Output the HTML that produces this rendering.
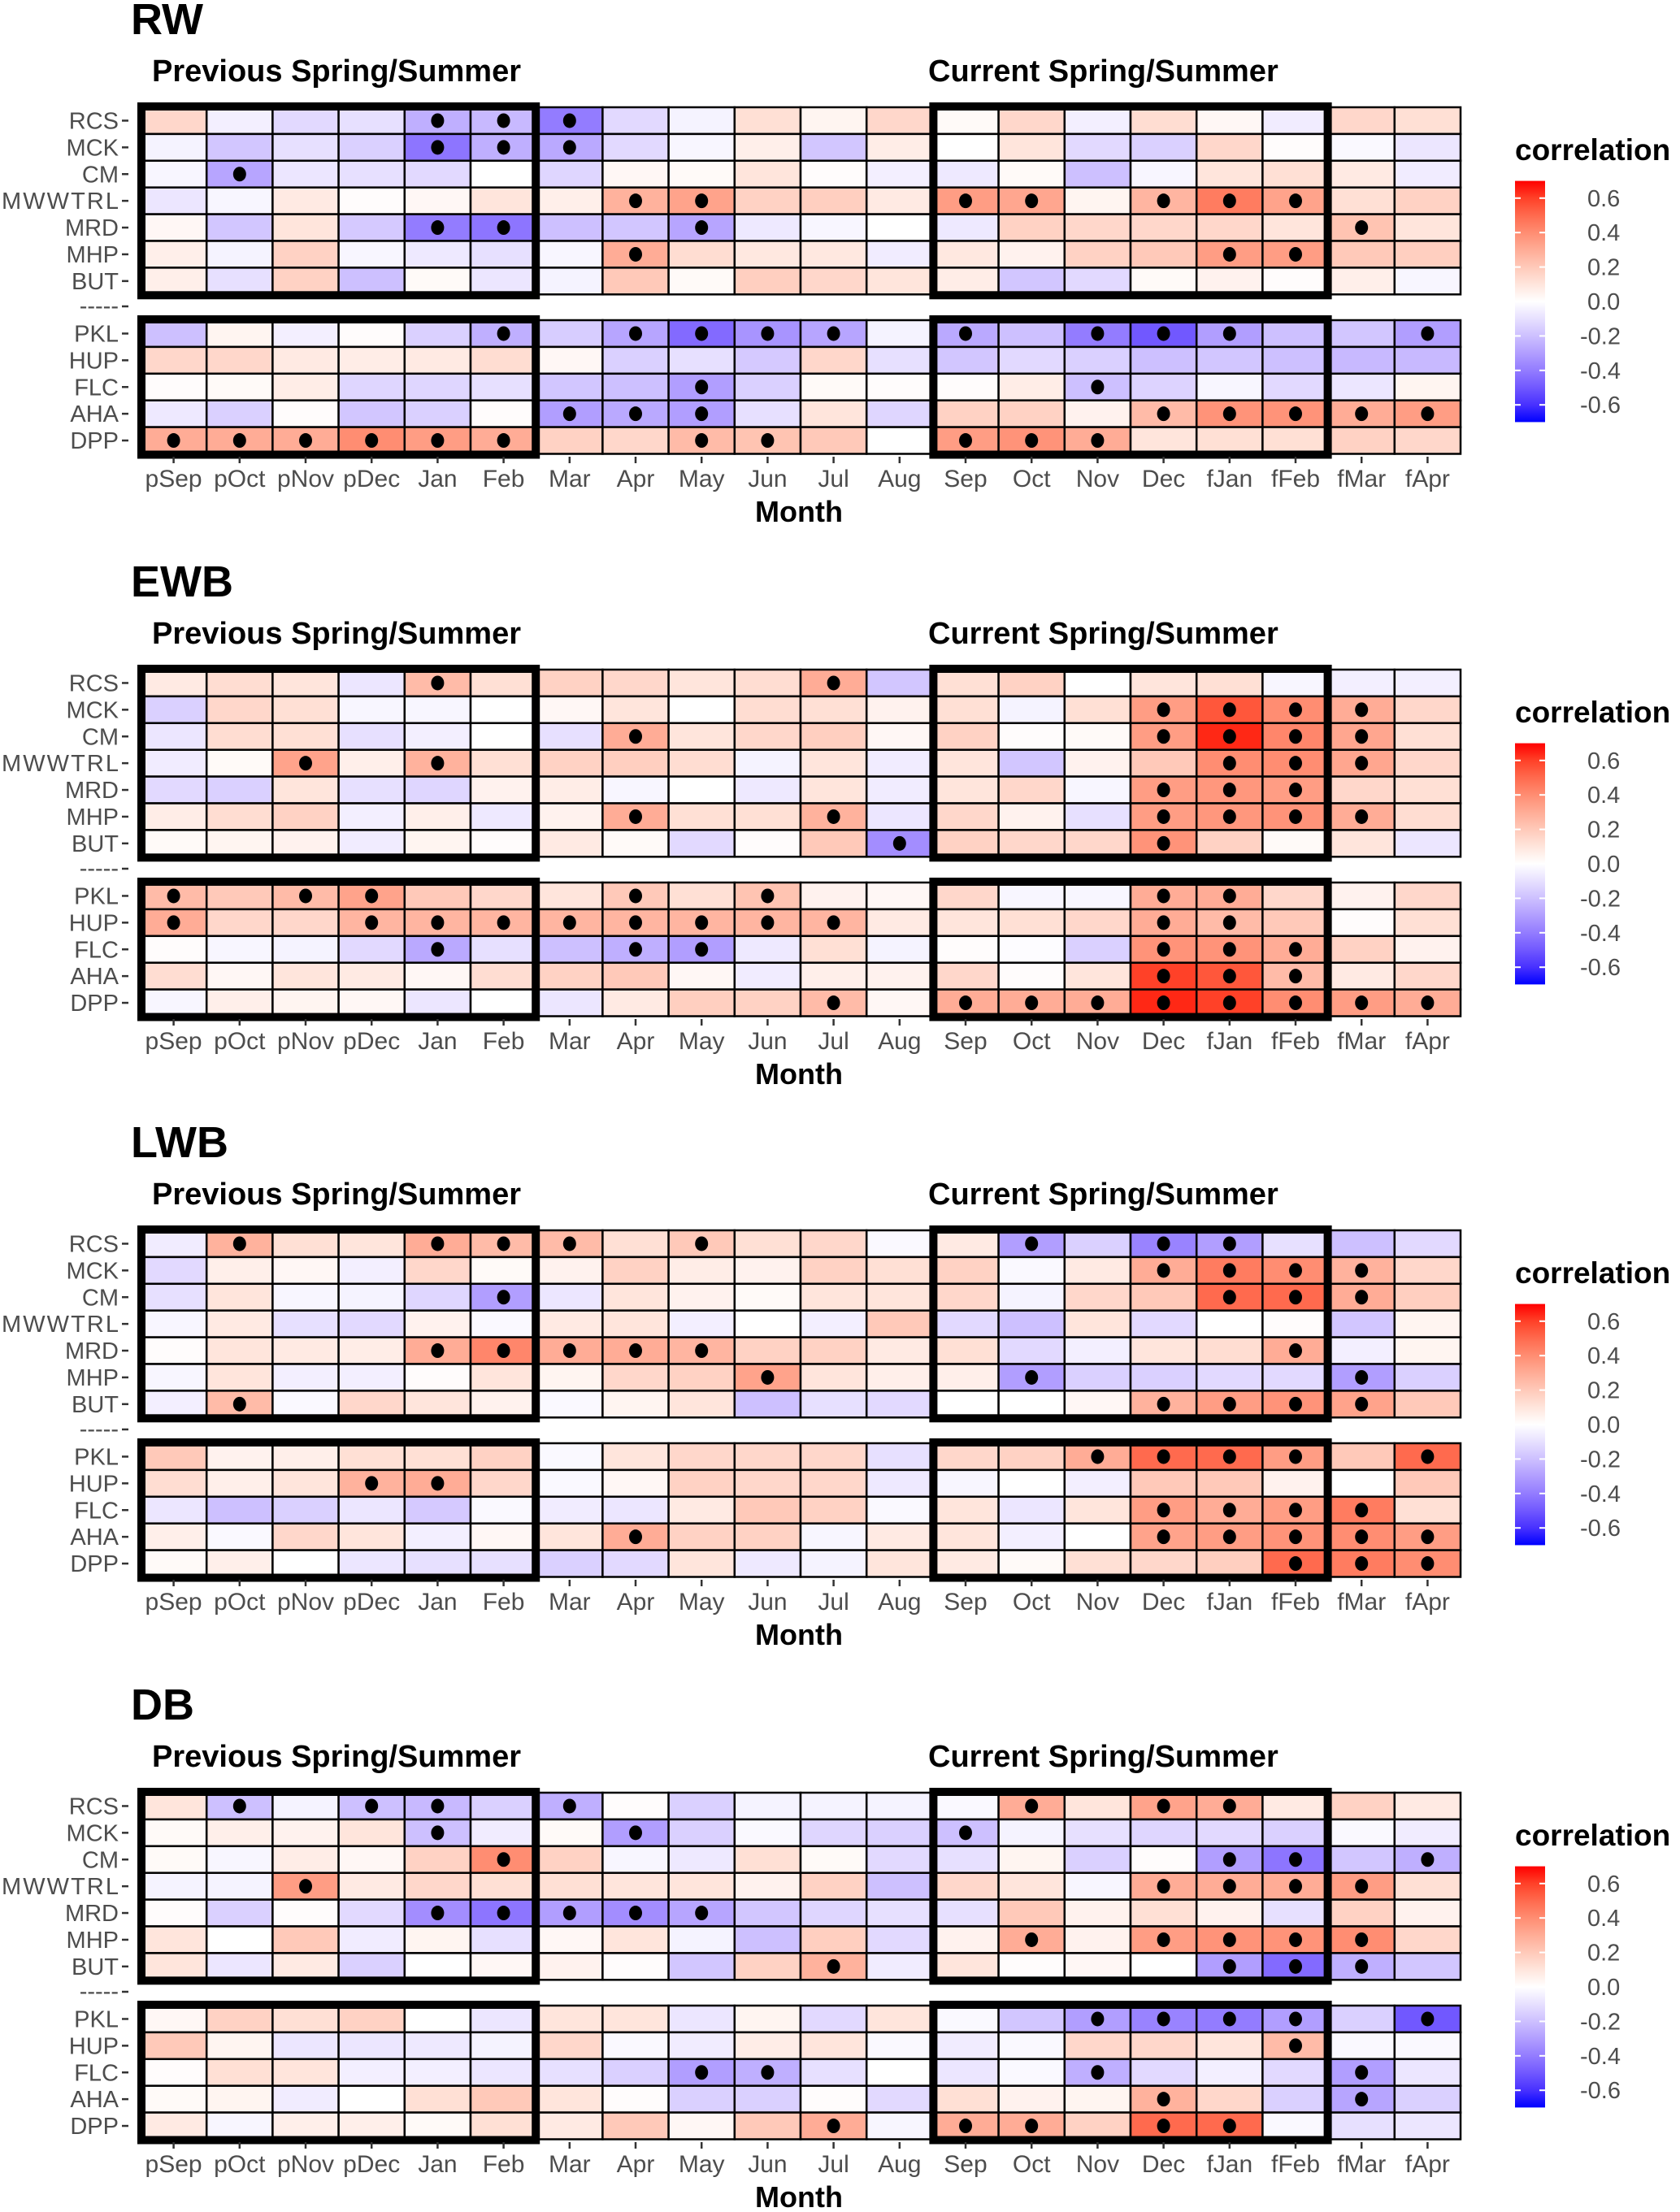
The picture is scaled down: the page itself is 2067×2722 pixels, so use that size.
<!DOCTYPE html>
<html><head><meta charset="utf-8"><style>
html,body{margin:0;padding:0;background:#fff;}
svg{display:block;font-family:"Liberation Sans",sans-serif;}
</style></head><body>
<svg id="chart" width="2067" height="2722" viewBox="0 0 2067 2722" xmlns="http://www.w3.org/2000/svg"></svg>
<script>
const months = ["pSep","pOct","pNov","pDec","Jan","Feb","Mar","Apr","May","Jun","Jul","Aug","Sep","Oct","Nov","Dec","fJan","fFeb","fMar","fApr"];
const topRows = ["RCS","MCK","CM","MWWTRL","MRD","MHP","BUT"];
const bottomRows = ["PKL","HUP","FLC","AHA","DPP"];
const panelNames = ["RW","EWB","LWB","DB"];
const legendTicks = [0.6,0.4,0.2,0.0,-0.2,-0.4,-0.6];

const rwValues = [
[0.15,-0.05,-0.12,-0.1,-0.25,-0.22,-0.4,-0.12,-0.04,0.12,0.04,0.15,0.02,0.15,-0.05,0.13,0.03,-0.06,0.15,0.12],
[-0.04,-0.18,-0.1,-0.15,-0.42,-0.25,-0.27,-0.12,-0.03,0.06,-0.18,0.07,0,0.1,-0.12,-0.15,0.15,0.01,-0.02,-0.08],
[-0.03,-0.28,-0.08,-0.1,-0.12,0,-0.13,0.03,0.02,0.1,0.01,-0.05,-0.07,0.02,-0.2,-0.03,0.1,0.12,0.08,-0.06],
[-0.08,-0.03,0.08,0.01,0.03,0.1,0.06,0.28,0.33,0.17,0.18,0.08,0.35,0.32,0.04,0.27,0.45,0.33,0.12,0.17],
[0.03,-0.18,0.1,-0.17,-0.4,-0.42,-0.2,-0.18,-0.28,-0.07,-0.03,0,-0.07,0.17,0.15,0.15,0.15,0.1,0.22,0.1],
[0.06,-0.04,0.17,-0.03,-0.07,-0.1,-0.03,0.3,0.13,0.09,0.09,-0.06,0.09,0.05,0.17,0.2,0.35,0.35,0.2,0.18],
[0.06,-0.1,0.17,-0.2,0.02,-0.08,-0.04,0.2,0.02,0.18,0.15,0.1,0.07,-0.18,-0.12,0.02,0.05,0.01,0.06,-0.03],
[-0.2,0.04,-0.05,0.01,-0.15,-0.25,-0.16,-0.28,-0.45,-0.33,-0.28,-0.04,-0.27,-0.2,-0.4,-0.5,-0.3,-0.2,-0.18,-0.3],
[0.15,0.15,0.08,0.07,0.08,0.13,0.03,-0.15,-0.1,-0.17,0.15,-0.1,-0.18,-0.12,-0.15,-0.2,-0.18,-0.2,-0.22,-0.22],
[0.01,0.02,0.07,-0.13,-0.13,-0.1,-0.18,-0.2,-0.3,-0.15,0.02,0.01,0.01,0.07,-0.2,-0.14,-0.03,-0.12,-0.08,0.04],
[-0.07,-0.15,0.01,-0.18,-0.15,0.01,-0.3,-0.27,-0.3,-0.1,0.1,-0.13,0.17,0.17,0.05,0.25,0.38,0.38,0.3,0.35],
[0.3,0.3,0.3,0.4,0.35,0.3,0.17,0.15,0.25,0.22,0.2,0,0.35,0.38,0.3,0.1,0.12,0.12,0.17,0.15]];
const rwSig = [[4,5,6],[4,5,6],[1],[7,8,12,13,15,16,17],[4,5,8,18],[7,16,17],[],
[5,7,8,9,10,12,14,15,16,19],[],[8,14],[6,7,8,15,16,17,18,19],[0,1,2,3,4,5,8,9,12,13,14]];

const ewbValues = [
[0.08,0.13,0.1,-0.08,0.25,0.12,0.17,0.15,0.1,0.13,0.3,-0.18,0.12,0.17,0,0.1,0.12,-0.03,-0.05,-0.05],
[-0.15,0.15,0.12,-0.03,-0.03,0,0.03,0.1,0,0.13,0.12,0.05,0.12,-0.04,0.12,0.35,0.55,0.4,0.3,0.15],
[-0.08,0.13,0.12,-0.1,-0.05,0,-0.1,0.3,0.1,0.15,0.18,0.03,0.17,0.01,0.02,0.35,0.65,0.42,0.32,0.12],
[-0.06,0.02,0.33,0.06,0.28,0.12,0.17,0.18,0.13,-0.04,0.1,-0.06,0.1,-0.18,0.05,0.2,0.4,0.4,0.32,0.15],
[-0.12,-0.15,0.1,-0.1,-0.13,0.05,0.07,-0.03,0,-0.07,0.1,-0.06,0.1,0.15,-0.03,0.35,0.37,0.35,0.15,0.12],
[0.07,0.13,0.17,-0.05,0.06,-0.07,0.05,0.3,0.12,0.12,0.28,-0.08,0.15,0.05,-0.1,0.35,0.37,0.38,0.3,0.13],
[0.02,0.04,0.05,-0.06,0.04,0.01,0.08,0.02,-0.12,0.01,0.2,-0.35,0.17,0.15,0.15,0.38,0.17,0.02,0.1,-0.08],
[0.25,0.2,0.25,0.33,0.2,0.15,0.1,0.2,0.12,0.22,0.05,0.03,0.15,-0.03,-0.03,0.3,0.3,0.15,0.05,0.15],
[0.3,0.15,0.15,0.27,0.27,0.27,0.27,0.27,0.27,0.27,0.27,0.08,0.1,0.12,0.15,0.3,0.25,0.2,0.01,0.12],
[0.01,-0.03,-0.04,-0.12,-0.27,-0.1,-0.2,-0.25,-0.3,-0.07,0.12,-0.04,0.01,-0.01,-0.15,0.38,0.38,0.3,0.17,0.05],
[0.13,0.03,0.1,0.08,0.03,0.13,0.17,0.2,0.03,-0.06,0.06,0.05,0.15,0.01,0.1,0.6,0.55,0.25,0.08,0.15],
[-0.03,0.06,0.04,0.03,-0.08,0,-0.08,0.08,0.18,0.17,0.25,0.03,0.3,0.3,0.3,0.65,0.6,0.4,0.35,0.3]];
const ewbSig = [[4,10],[15,16,17,18],[7,15,16,17,18],[2,4,16,17,18],[15,16,17],[7,10,15,16,17,18],[11,15],
[0,2,3,7,9,15,16],[0,3,4,5,6,7,8,9,10,15,16],[4,7,8,15,16,17],[15,16,17],[10,12,13,14,15,16,17,18,19]];

const lwbValues = [
[-0.06,0.28,0.12,0.1,0.3,0.25,0.25,0.12,0.2,0.12,0.15,-0.02,0.08,-0.3,-0.15,-0.38,-0.3,-0.1,-0.2,-0.12],
[-0.12,0.06,0.03,-0.05,0.15,0.02,0.05,0.17,0.07,0.05,0.17,0.12,0.17,-0.02,0.08,0.3,0.45,0.4,0.28,0.15],
[-0.1,0.1,-0.03,-0.04,-0.13,-0.3,-0.08,0.1,0.05,0.02,0.1,0.1,0.15,-0.04,0.15,0.2,0.5,0.5,0.3,0.18],
[-0.03,0.08,-0.1,-0.12,0.05,-0.02,0.08,0.1,-0.05,0,-0.05,0.2,-0.12,-0.2,0.1,-0.12,0,0.01,-0.18,0.04],
[0.01,0.1,0.08,0.07,0.3,0.42,0.3,0.3,0.27,0.17,0.17,0.08,0.12,-0.12,-0.05,0.1,0.13,0.3,-0.05,0.04],
[-0.03,0.1,-0.05,-0.05,0.01,0.1,0.04,0.15,0.17,0.33,0.1,0.06,0.06,-0.3,-0.15,-0.15,-0.12,-0.12,-0.3,-0.15],
[-0.05,0.25,-0.02,0.15,0.1,0.05,-0.02,0.04,0.1,-0.2,-0.1,-0.12,0,0,0.03,0.28,0.35,0.38,0.33,0.2],
[0.2,0.05,0.06,0.12,0.12,0.17,-0.02,0.1,0.15,0.15,0.15,-0.1,0.15,0.17,0.3,0.5,0.5,0.35,0.2,0.5],
[0.13,0.06,0.1,0.28,0.3,0.15,-0.02,0.03,0.17,0.15,0.15,-0.07,-0.03,0,-0.05,0.2,0.2,0.05,0,0.2],
[-0.08,-0.2,-0.15,-0.08,-0.17,-0.02,-0.06,-0.08,0.08,0.2,0.17,-0.02,0.1,-0.08,0.1,0.35,0.3,0.35,0.45,0.12],
[0.06,-0.02,0.15,0.1,-0.05,0.03,0.1,0.3,0.17,0.17,-0.03,0.08,0.1,-0.05,0,0.33,0.35,0.38,0.4,0.35],
[0.02,0.06,0,-0.08,-0.1,-0.1,-0.15,-0.12,0.1,-0.07,-0.04,0.1,0.08,0.02,0.12,0.15,0.18,0.5,0.45,0.4]];
const lwbSig = [[1,4,5,6,8,13,15,16],[15,16,17,18],[5,16,17,18],[],[4,5,6,7,8,17],[9,13,18],[1,15,16,17,18],
[14,15,16,17,19],[3,4],[15,16,17,18],[7,15,16,17,18,19],[17,18,19]];

const dbValues = [
[0.1,-0.2,-0.04,-0.2,-0.22,-0.15,-0.25,0.01,-0.15,-0.04,-0.04,-0.04,-0.02,0.3,0.1,0.33,0.3,0.08,0.17,0.08],
[0.02,0.06,0.05,0.1,-0.2,-0.06,0.02,-0.3,-0.15,-0.02,-0.13,-0.15,-0.2,-0.04,-0.1,-0.13,-0.12,-0.15,-0.02,-0.06],
[0.02,-0.03,0.07,0.03,0.17,0.4,0.17,-0.03,-0.07,0.12,0.02,-0.12,-0.1,0.04,-0.15,0.01,-0.3,-0.42,-0.18,-0.25],
[-0.04,-0.04,0.35,0.08,0.15,0.12,0.12,0.1,0.1,0.05,0.17,-0.2,0.15,0.1,-0.03,0.3,0.3,0.3,0.35,0.12],
[0.01,-0.15,0.01,-0.12,-0.35,-0.42,-0.3,-0.35,-0.28,-0.18,-0.13,-0.1,-0.1,0.2,0.05,0.12,0.05,-0.1,0.17,0.05],
[0.1,0,0.2,-0.06,0.04,-0.1,0.03,0.1,-0.04,-0.2,0.18,-0.12,0.05,0.3,0.05,0.35,0.38,0.38,0.4,0.15],
[0.1,-0.08,0.08,-0.15,0,0.03,0.05,0.01,-0.18,0.17,0.28,-0.06,0.1,0.01,0.03,0,-0.3,-0.45,-0.25,-0.18],
[0.03,0.17,0.12,0.17,0,-0.08,0.1,0.1,-0.08,0.04,-0.12,0.1,-0.02,-0.18,-0.3,-0.38,-0.4,-0.3,-0.15,-0.5],
[0.2,0.04,-0.08,-0.08,-0.07,-0.04,0.15,-0.02,-0.06,0.07,0.1,-0.02,-0.06,-0.02,0.15,0.15,0.1,0.25,-0.02,-0.02],
[0.01,0.12,0.1,-0.05,-0.05,-0.08,-0.1,-0.15,-0.3,-0.25,-0.1,0,-0.08,-0.02,-0.25,-0.12,-0.05,-0.12,-0.3,-0.08],
[0.02,0.04,-0.06,0,0.12,0.2,0.1,0.01,-0.15,-0.15,0.01,-0.12,0.12,0.05,0.04,0.28,0.15,-0.15,-0.28,-0.15],
[0.08,-0.03,0.06,0.06,0.02,0.12,0.08,0.2,0.03,0.2,0.3,-0.03,0.3,0.3,0.17,0.5,0.5,-0.02,-0.1,-0.08]];
const dbSig = [[1,3,4,6,13,15,16],[4,7,12],[5,16,17,19],[2,15,16,17,18],[4,5,6,7,8],[13,15,16,17,18],[10,16,17,18],
[14,15,16,17,19],[17],[8,9,14,18],[15,18],[10,12,13,15,16]];

const panelValues = [rwValues, ewbValues, lwbValues, dbValues];
const panelSig = [rwSig, ewbSig, lwbSig, dbSig];

const NS = "http://www.w3.org/2000/svg";
const svg = document.getElementById("chart");
const X0 = 173, CW = 81.2, RH = 32.9, TOP0 = 132, BOT0 = 394;
const LIM = 0.7;
function xScale(c){ return X0 + c*CW; }
function rowY(i){ return i < 7 ? TOP0 + i*RH : BOT0 + (i-7)*RH; }
function color(v){
  let t = Math.min(Math.abs(v)/LIM,1), u = 1-t;
  if (v >= 0) return `rgb(255,${Math.round(255*Math.pow(u,0.7))},${Math.round(255*Math.pow(u,0.95))})`;
  return `rgb(${Math.round(255*Math.pow(u,0.65))},${Math.round(255*Math.pow(u,0.85))},255)`;
}
function el(tag, attrs, parent){
  const e = document.createElementNS(NS, tag);
  for (const k in attrs) e.setAttribute(k, attrs[k]);
  (parent||svg).appendChild(e); return e;
}
function txt(s, attrs, parent){ const e = el("text", attrs, parent); e.textContent = s; return e; }
const legendScale = v => 371 - v*212;

panelNames.forEach((pname, p) => {
  const off = [0,692,1382,2074][p];
  const g = el("g", {transform:`translate(0,${off})`});
  
  
  const title = txt(pname, {x:161, y:42, "font-size":54, "font-weight":"bold", fill:"#000"}, g);
  
  
  const s1 = txt("Previous Spring/Summer", {x:187, y:100, "font-size":38, "font-weight":"bold", fill:"#000"}, g);
  
  
  const s2 = txt("Current Spring/Summer", {x:1142, y:100, "font-size":38, "font-weight":"bold", fill:"#000"}, g);
  
  

  const vals = panelValues[p], sig = panelSig[p];
  const rowsAll = topRows.concat(bottomRows);
  vals.forEach((row, i) => {
    row.forEach((v, c) => {
      const r = el("rect", {x:xScale(c), y:rowY(i), width:CW, height:RH, fill:color(v), stroke:"#000", "stroke-width":2.5}, g);
      
      
    });
  });
  sig.forEach((cols, i) => {
    cols.forEach(c => {
      const d = el("ellipse", {cx:xScale(c)+CW/2, cy:rowY(i)+RH/2, rx:8, ry:9, fill:"#000"}, g);
      
      
    });
  });
  [[0,6],[12,18]].forEach(([a,b]) => {
    [[TOP0, 7],[BOT0, 5]].forEach(([y0,n]) => {
      const f = el("rect", {x:xScale(a)+1, y:y0-1, width:(b-a)*CW-2, height:n*RH+2, fill:"none", stroke:"#000", "stroke-width":10}, g);
      
      
    });
  });
  rowsAll.forEach((name, i) => {
    const cy = rowY(i) + RH/2;
    const attrs = {x:146, y:cy+10, "font-size":29, fill:"#4d4d4d", "text-anchor":"end"};
    if (name === "MWWTRL") attrs.textLength = 144;
    const l = txt(name, attrs, g);
    
    
    el("line", {x1:150, x2:158, y1:cy, y2:cy, stroke:"#333", "stroke-width":2.5}, g);
  });
  const sep = txt("-----", {x:146, y:386, "font-size":29, fill:"#4d4d4d", "text-anchor":"end"}, g);
  
  
  el("line", {x1:150, x2:158, y1:377, y2:377, stroke:"#333", "stroke-width":2.5}, g);
  months.forEach((m, c) => {
    const cx = xScale(c) + CW/2;
    el("line", {x1:cx, x2:cx, y1:562, y2:570, stroke:"#333", "stroke-width":2.5}, g);
    const l = txt(m, {x:cx, y:599, "font-size":30, fill:"#4d4d4d", "text-anchor":"middle"}, g);
    
    
  });
  const mt = txt("Month", {x:983, y:642, "font-size":36, "font-weight":"bold", fill:"#000", "text-anchor":"middle"}, g);
  
  
  const gid = "grad" + p;
  const defs = el("defs", {}, g);
  const lg = el("linearGradient", {id:gid, x1:0, y1:0, x2:0, y2:1}, defs);
  for (let k=0;k<=14;k++){
    const v = LIM - k*0.1;
    el("stop", {offset:(k/14), "stop-color":color(v)}, lg);
  }
  const lt = txt("correlation", {x:1864, y:197, "font-size":37, "font-weight":"bold", fill:"#000"}, g);
  
  
  const bar = el("rect", {x:1864, y:legendScale(LIM), width:37, height:legendScale(-LIM)-legendScale(LIM), fill:`url(#${gid})`}, g);
  
  
  legendTicks.forEach(v => {
    const y = legendScale(v);
    el("line", {x1:1864, x2:1871, y1:y, y2:y, stroke:"#fff", "stroke-width":2}, g);
    el("line", {x1:1894, x2:1901, y1:y, y2:y, stroke:"#fff", "stroke-width":2}, g);
    const l = txt((v<0?"-":"") + Math.abs(v).toFixed(1), {x: v<0?1944:1953, y:y+10, "font-size":29, fill:"#4d4d4d"}, g);
    
    
  });
});
</script>
</body></html>
